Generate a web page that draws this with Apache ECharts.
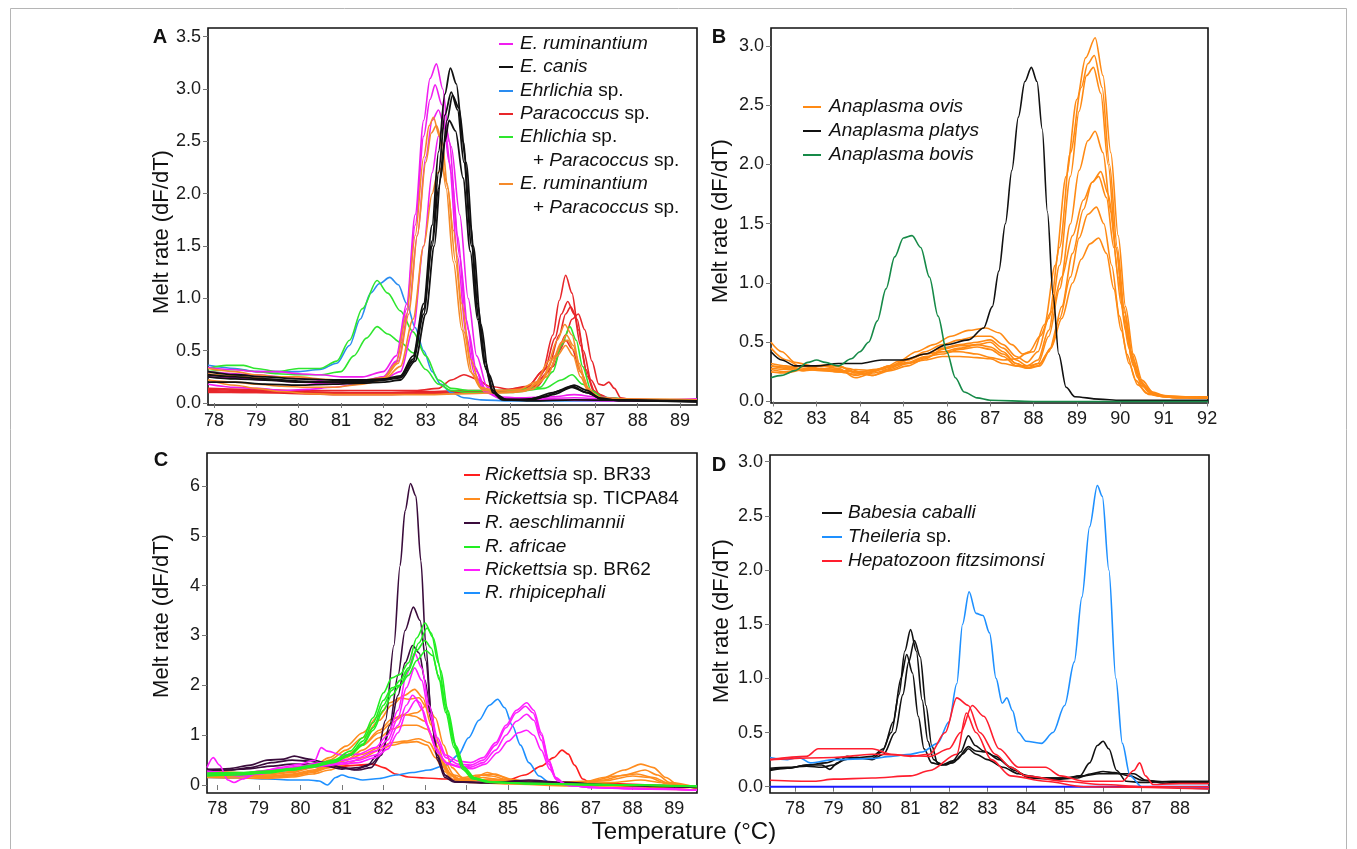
<!DOCTYPE html>
<html>
<head>
<meta charset="utf-8">
<script src="https://cdn.jsdelivr.net/npm/echarts@6/dist/echarts.min.js"></script>
<style>
  html, body { margin: 0; padding: 0; background: #fff; }
  #main { width: 1357px; height: 849px; }
</style>
</head>
<body>
<div id="main"></div>
<script>
// ---------- tick labels ----------
var ticksA = [78, 79, 80, 81, 82, 83, 84, 85, 86, 87, 88, 89];
var ticksB = [82, 83, 84, 85, 86, 87, 88, 89, 90, 91, 92];
var ticksC = [78, 79, 80, 81, 82, 83, 84, 85, 86, 87, 88, 89];
var ticksD = [78, 79, 80, 81, 82, 83, 84, 85, 86, 87, 88];
var yTicksA = [0, 0.5, 1, 1.5, 2, 2.5, 3, 3.5];
var yTicksB = [0, 0.5, 1, 1.5, 2, 2.5, 3];
var yTicksC = [0, 1, 2, 3, 4, 5, 6];
var yTicksD = [0, 0.5, 1, 1.5, 2, 2.5, 3];

// ---------- panel A : [temperature, melt rate] ----------
var aRum1 = [[77.86,0.34],[78.4,0.32],[79,0.3],[79.5,0.3],[80,0.28],[80.5,0.27],[81,0.25],[81.5,0.25],[82,0.3],[82.3,0.45],[82.55,0.95],[82.75,1.8],[82.95,2.7],[83.1,3.1],[83.25,3.24],[83.4,3.0],[83.55,2.5],[83.75,1.6],[83.95,0.8],[84.15,0.35],[84.4,0.12],[84.7,0.06],[85.2,0.05],[86,0.06],[86.5,0.08],[87,0.06],[87.6,0.04],[88.5,0.03],[89.4,0.04]];
var aRum2 = [[77.86,0.3],[78.5,0.28],[79,0.27],[79.6,0.25],[80.2,0.23],[80.8,0.2],[81.4,0.2],[82,0.25],[82.3,0.4],[82.55,0.9],[82.75,1.7],[82.95,2.55],[83.1,2.9],[83.22,3.04],[83.38,2.85],[83.55,2.3],[83.75,1.4],[83.95,0.65],[84.15,0.28],[84.4,0.1],[84.8,0.04],[86,0.03],[87,0.03],[89.4,0.02]];
var aRum3 = [[77.86,0.18],[78.5,0.15],[79,0.14],[79.6,0.12],[80.2,0.13],[80.8,0.15],[81.4,0.18],[82,0.25],[82.35,0.4],[82.6,0.9],[82.8,1.6],[83.0,2.35],[83.15,2.7],[83.3,2.8],[83.45,2.62],[83.6,2.2],[83.8,1.4],[84.0,0.7],[84.2,0.3],[84.45,0.1],[84.8,0.04],[86,0.03],[87.5,0.02],[89.4,0.03]];
var aRum4 = [[77.86,0.25],[78.5,0.24],[79.2,0.22],[80,0.2],[80.8,0.18],[81.5,0.2],[82,0.23],[82.4,0.3],[82.7,0.7],[82.95,1.5],[83.15,2.2],[83.3,2.55],[83.45,2.65],[83.6,2.45],[83.8,1.8],[84.0,1.0],[84.2,0.45],[84.45,0.15],[84.8,0.05],[85.5,0.04],[86.5,0.05],[87.5,0.03],[89.4,0.03]];
var aCan1 = [[77.86,0.3],[78.5,0.27],[79.2,0.25],[80,0.23],[80.8,0.22],[81.5,0.22],[82,0.23],[82.4,0.26],[82.7,0.45],[82.95,0.95],[83.15,1.7],[83.3,2.4],[83.45,2.95],[83.58,3.2],[83.72,3.05],[83.88,2.5],[84.05,1.7],[84.22,0.95],[84.4,0.4],[84.58,0.12],[84.8,0.04],[85.3,0.03],[85.8,0.06],[86.2,0.12],[86.5,0.17],[86.8,0.12],[87.1,0.05],[87.6,0.02],[89.4,0.02]];
var aCan2 = [[77.86,0.25],[78.5,0.23],[79.2,0.22],[80,0.2],[80.8,0.2],[81.5,0.2],[82,0.22],[82.4,0.24],[82.7,0.4],[82.95,0.85],[83.15,1.55],[83.3,2.2],[83.45,2.75],[83.6,2.97],[83.75,2.8],[83.9,2.3],[84.08,1.5],[84.25,0.8],[84.42,0.32],[84.6,0.1],[84.85,0.03],[85.5,0.03],[86,0.08],[86.45,0.15],[86.8,0.1],[87.2,0.03],[89.4,0.01]];
var aCan3 = [[77.86,0.2],[78.5,0.2],[79.2,0.18],[80,0.17],[80.8,0.18],[81.5,0.19],[82,0.2],[82.4,0.22],[82.75,0.4],[83.0,0.85],[83.2,1.5],[83.35,2.15],[83.5,2.7],[83.63,2.94],[83.78,2.82],[83.95,2.3],[84.12,1.5],[84.3,0.75],[84.48,0.28],[84.68,0.08],[84.9,0.03],[85.5,0.02],[86.5,0.03],[89.4,0.01]];
var aCan4 = [[77.86,0.27],[78.5,0.25],[79.2,0.23],[80,0.21],[80.8,0.2],[81.5,0.21],[82,0.22],[82.4,0.25],[82.7,0.42],[82.95,0.9],[83.15,1.5],[83.3,2.05],[83.45,2.5],[83.55,2.7],[83.7,2.6],[83.88,2.15],[84.05,1.45],[84.22,0.8],[84.4,0.35],[84.58,0.1],[84.8,0.03],[85.5,0.04],[86,0.1],[86.45,0.16],[86.8,0.1],[87.2,0.03],[89.4,0.02]];
var aEhr = [[77.86,0.36],[78.5,0.33],[79,0.3],[79.5,0.3],[80,0.3],[80.5,0.32],[80.9,0.38],[81.2,0.55],[81.45,0.8],[81.7,1.05],[81.9,1.14],[82.15,1.2],[82.35,1.13],[82.55,0.95],[82.75,0.72],[82.95,0.5],[83.15,0.3],[83.35,0.18],[83.6,0.1],[83.9,0.05],[84.3,0.03],[85,0.02],[86,0.02],[87,0.02],[89.4,0.02]];
var aMix1 = [[77.86,0.33],[78.3,0.36],[78.7,0.36],[79,0.33],[79.5,0.3],[80,0.33],[80.5,0.33],[80.9,0.4],[81.2,0.6],[81.5,0.9],[81.85,1.17],[82.1,1.05],[82.4,0.88],[82.7,0.68],[83.0,0.45],[83.3,0.22],[83.6,0.14],[84,0.12],[85,0.12],[85.7,0.15],[86,0.3],[86.2,0.55],[86.4,0.73],[86.55,0.6],[86.7,0.35],[86.9,0.12],[87.2,0.05],[88,0.03],[89.4,0.03]];
var aMix2 = [[77.86,0.3],[78.5,0.32],[79,0.3],[79.5,0.28],[80,0.27],[80.5,0.27],[81,0.3],[81.3,0.45],[81.6,0.62],[81.85,0.73],[82.1,0.66],[82.4,0.58],[82.7,0.48],[83,0.32],[83.3,0.18],[83.6,0.12],[84,0.1],[85,0.1],[85.8,0.14],[86.2,0.22],[86.45,0.27],[86.7,0.18],[87,0.06],[88,0.03],[89.4,0.03]];
var aPar1 = [[77.86,0.13],[79,0.12],[80,0.11],[81,0.1],[82,0.1],[83,0.11],[84,0.12],[84.8,0.12],[85.4,0.15],[85.75,0.3],[86.0,0.65],[86.15,0.98],[86.3,1.22],[86.45,1.05],[86.6,0.7],[86.78,0.32],[86.95,0.12],[87.2,0.05],[87.8,0.03],[89.4,0.02]];
var aPar2 = [[77.86,0.12],[79,0.11],[80,0.1],[81,0.1],[82,0.09],[83,0.1],[84,0.11],[84.8,0.12],[85.4,0.16],[85.8,0.32],[86.05,0.62],[86.2,0.85],[86.35,0.97],[86.5,0.85],[86.65,0.55],[86.82,0.25],[87.0,0.1],[87.3,0.04],[88,0.03],[89.4,0.02]];
var aPar3 = [[77.86,0.1],[79,0.1],[80,0.09],[81,0.08],[82,0.08],[83,0.09],[84,0.1],[84.8,0.11],[85.5,0.15],[85.9,0.35],[86.15,0.65],[86.3,0.85],[86.42,0.92],[86.57,0.8],[86.72,0.5],[86.9,0.22],[87.1,0.08],[87.4,0.03],[89.4,0.02]];
var aPar4 = [[77.86,0.11],[79,0.1],[80,0.1],[81,0.09],[82,0.09],[83,0.1],[84,0.11],[85,0.12],[85.6,0.15],[86.0,0.35],[86.3,0.65],[86.45,0.8],[86.6,0.85],[86.75,0.7],[86.92,0.4],[87.08,0.18],[87.2,0.17],[87.32,0.2],[87.45,0.14],[87.6,0.05],[88,0.02],[89.4,0.02]];
var aPar5 = [[77.86,0.14],[79,0.13],[80,0.12],[81,0.12],[82,0.12],[82.8,0.12],[83.3,0.14],[83.6,0.22],[83.9,0.27],[84.2,0.23],[84.5,0.16],[85,0.13],[85.5,0.14],[85.9,0.3],[86.15,0.5],[86.3,0.6],[86.45,0.52],[86.65,0.3],[86.85,0.12],[87.1,0.05],[88,0.03],[89.4,0.02]];
var aRP1 = [[77.86,0.33],[78.5,0.3],[79,0.27],[79.5,0.25],[80,0.25],[80.5,0.23],[81,0.22],[81.5,0.22],[82,0.24],[82.3,0.38],[82.55,0.85],[82.75,1.6],[82.95,2.35],[83.08,2.65],[83.18,2.73],[83.32,2.55],[83.48,2.05],[83.65,1.35],[83.85,0.7],[84.05,0.3],[84.3,0.14],[84.7,0.12],[85.2,0.13],[85.6,0.2],[85.9,0.4],[86.1,0.6],[86.28,0.75],[86.45,0.65],[86.62,0.38],[86.8,0.15],[87.05,0.06],[87.6,0.03],[89.4,0.03]];
var aRP2 = [[77.86,0.28],[78.5,0.26],[79,0.24],[79.5,0.22],[80,0.2],[80.5,0.2],[81,0.2],[81.5,0.21],[82,0.23],[82.35,0.38],[82.6,0.85],[82.8,1.6],[83.0,2.3],[83.13,2.58],[83.25,2.65],[83.38,2.5],[83.52,2.05],[83.7,1.35],[83.9,0.68],[84.1,0.28],[84.35,0.12],[84.8,0.1],[85.3,0.11],[85.7,0.2],[86.0,0.42],[86.2,0.58],[86.32,0.65],[86.48,0.55],[86.65,0.3],[86.85,0.12],[87.1,0.05],[88,0.03],[89.4,0.03]];
var aRP3 = [[77.86,0.22],[78.5,0.2],[79,0.18],[79.6,0.16],[80.2,0.15],[80.8,0.15],[81.5,0.18],[82,0.22],[82.4,0.35],[82.7,0.8],[82.95,1.5],[83.15,2.0],[83.28,2.2],[83.38,2.25],[83.5,2.1],[83.65,1.65],[83.85,0.95],[84.05,0.42],[84.3,0.15],[84.7,0.1],[85.3,0.12],[85.75,0.22],[86.05,0.45],[86.22,0.58],[86.35,0.6],[86.5,0.5],[86.68,0.28],[86.88,0.1],[87.2,0.04],[89.4,0.03]];
var aRP4 = [[77.86,0.22],[78.5,0.17],[79,0.14],[79.6,0.11],[80.2,0.09],[81,0.08],[82,0.08],[83,0.08],[84,0.09],[85,0.1],[85.5,0.13],[85.85,0.25],[86.1,0.45],[86.3,0.55],[86.48,0.45],[86.65,0.25],[86.85,0.1],[87.2,0.04],[89.4,0.03]];

// ---------- panel B ----------
var bBov = [[81.95,0.2],[82.2,0.22],[82.5,0.26],[82.8,0.33],[83,0.35],[83.2,0.33],[83.5,0.3],[83.8,0.36],[84.0,0.42],[84.2,0.5],[84.4,0.68],[84.6,0.95],[84.8,1.22],[85.0,1.38],[85.2,1.4],[85.4,1.3],[85.6,1.05],[85.8,0.72],[86.0,0.42],[86.2,0.2],[86.4,0.08],[86.7,0.03],[87,0.01],[88,0.0],[92.02,0.0]];
var bPla = [[81.95,0.42],[82.2,0.35],[82.5,0.3],[83,0.3],[83.5,0.32],[84,0.32],[84.5,0.35],[85,0.35],[85.5,0.4],[86,0.48],[86.5,0.52],[86.85,0.62],[87.05,0.8],[87.2,1.1],[87.35,1.5],[87.5,1.95],[87.65,2.4],[87.8,2.7],[87.95,2.82],[88.08,2.7],[88.2,2.3],[88.32,1.6],[88.45,0.9],[88.58,0.4],[88.75,0.12],[88.95,0.04],[89.5,0.02],[90,0.01],[92.02,0.01]];
var bOv1 = [[81.95,0.5],[82.2,0.42],[82.5,0.33],[82.9,0.3],[83.3,0.31],[83.7,0.28],[84.1,0.24],[84.5,0.27],[84.9,0.34],[85.3,0.42],[85.7,0.48],[86.1,0.55],[86.5,0.6],[86.9,0.62],[87.2,0.58],[87.5,0.48],[87.75,0.4],[88.0,0.42],[88.25,0.65],[88.5,1.15],[88.75,1.9],[89.0,2.55],[89.2,2.9],[89.42,3.07],[89.6,2.75],[89.78,2.1],[89.95,1.4],[90.12,0.8],[90.3,0.4],[90.5,0.18],[90.75,0.08],[91.0,0.05],[91.5,0.04],[92.02,0.04]];
var bOv2 = [[81.95,0.45],[82.3,0.35],[82.7,0.28],[83.1,0.3],[83.5,0.3],[83.9,0.25],[84.3,0.22],[84.7,0.28],[85.1,0.35],[85.5,0.42],[85.9,0.48],[86.3,0.52],[86.7,0.55],[87.0,0.55],[87.3,0.48],[87.6,0.38],[87.85,0.33],[88.1,0.42],[88.35,0.7],[88.6,1.3],[88.85,2.1],[89.1,2.65],[89.25,2.85],[89.4,2.92],[89.58,2.65],[89.75,2.0],[89.93,1.3],[90.1,0.75],[90.3,0.35],[90.5,0.15],[90.8,0.06],[91.2,0.04],[92.02,0.03]];
var bOv3 = [[81.95,0.32],[82.3,0.3],[82.7,0.27],[83.1,0.28],[83.5,0.27],[83.9,0.22],[84.3,0.25],[84.7,0.3],[85.1,0.36],[85.5,0.4],[85.9,0.45],[86.3,0.48],[86.7,0.5],[87.0,0.52],[87.3,0.45],[87.6,0.35],[87.85,0.3],[88.1,0.35],[88.35,0.6],[88.6,1.15],[88.85,1.9],[89.05,2.45],[89.22,2.75],[89.38,2.82],[89.55,2.6],[89.72,2.0],[89.9,1.3],[90.08,0.72],[90.28,0.33],[90.5,0.13],[90.8,0.05],[91.3,0.03],[92.02,0.03]];
var bOv4 = [[81.95,0.28],[82.3,0.27],[82.7,0.26],[83.1,0.3],[83.5,0.28],[83.9,0.2],[84.3,0.24],[84.7,0.27],[85.1,0.32],[85.5,0.37],[85.9,0.42],[86.3,0.45],[86.7,0.48],[87.0,0.5],[87.3,0.42],[87.6,0.32],[87.85,0.28],[88.1,0.32],[88.35,0.55],[88.6,0.95],[88.85,1.5],[89.05,1.95],[89.25,2.2],[89.42,2.28],[89.6,2.1],[89.78,1.6],[89.95,1.05],[90.12,0.6],[90.3,0.3],[90.55,0.12],[90.85,0.05],[91.3,0.03],[92.02,0.03]];
var bOv5 = [[81.95,0.25],[82.3,0.24],[82.7,0.27],[83.1,0.3],[83.5,0.3],[83.9,0.24],[84.3,0.22],[84.7,0.26],[85.1,0.3],[85.5,0.36],[85.9,0.44],[86.3,0.47],[86.7,0.48],[87.0,0.46],[87.3,0.4],[87.6,0.32],[87.9,0.28],[88.15,0.3],[88.4,0.45],[88.65,0.8],[88.9,1.25],[89.15,1.62],[89.35,1.85],[89.55,1.94],[89.72,1.75],[89.9,1.3],[90.08,0.8],[90.25,0.42],[90.45,0.18],[90.7,0.07],[91.1,0.04],[92.02,0.03]];
var bOv6 = [[81.95,0.3],[82.3,0.28],[82.7,0.3],[83.1,0.27],[83.5,0.25],[83.9,0.27],[84.3,0.26],[84.7,0.3],[85.1,0.35],[85.5,0.4],[85.9,0.42],[86.3,0.42],[86.7,0.4],[87.0,0.37],[87.3,0.35],[87.6,0.36],[87.9,0.42],[88.15,0.55],[88.4,0.75],[88.65,1.05],[88.9,1.4],[89.15,1.7],[89.35,1.85],[89.5,1.9],[89.68,1.72],[89.85,1.3],[90.02,0.82],[90.2,0.45],[90.4,0.2],[90.65,0.08],[91.0,0.04],[92.02,0.03]];
var bOv7 = [[81.95,0.27],[82.3,0.25],[82.7,0.27],[83.1,0.26],[83.5,0.25],[83.9,0.23],[84.3,0.27],[84.7,0.29],[85.1,0.33],[85.5,0.38],[85.9,0.4],[86.3,0.44],[86.7,0.46],[87.0,0.44],[87.3,0.38],[87.6,0.3],[87.85,0.28],[88.1,0.3],[88.35,0.42],[88.6,0.7],[88.85,1.05],[89.05,1.38],[89.25,1.58],[89.45,1.64],[89.62,1.5],[89.8,1.15],[89.98,0.72],[90.15,0.4],[90.35,0.18],[90.6,0.07],[91.0,0.04],[92.02,0.03]];
var bOv8 = [[81.95,0.3],[82.3,0.29],[82.7,0.26],[83.1,0.27],[83.5,0.26],[83.9,0.25],[84.3,0.26],[84.7,0.3],[85.1,0.32],[85.5,0.35],[85.9,0.38],[86.3,0.38],[86.7,0.37],[87.0,0.36],[87.3,0.32],[87.6,0.3],[87.85,0.3],[88.15,0.32],[88.4,0.45],[88.65,0.7],[88.9,1.0],[89.1,1.2],[89.3,1.33],[89.5,1.38],[89.68,1.25],[89.85,0.95],[90.02,0.6],[90.2,0.32],[90.4,0.14],[90.65,0.06],[91.0,0.04],[92.02,0.03]];

// ---------- panel C ----------
var cBR33 = [[77.75,0.2],[78.5,0.22],[79,0.27],[79.5,0.32],[80,0.35],[80.5,0.37],[81,0.38],[81.4,0.4],[81.75,0.42],[82.0,0.35],[82.3,0.22],[82.6,0.16],[83,0.14],[83.5,0.12],[84,0.1],[84.5,0.08],[85,0.1],[85.4,0.2],[85.8,0.38],[86.1,0.55],[86.3,0.7],[86.45,0.62],[86.6,0.4],[86.8,0.12],[87.0,0.04],[87.5,0.03],[88.5,0.0],[89.55,-0.03]];
var cTic1 = [[77.75,0.25],[78.5,0.22],[79.2,0.2],[79.8,0.25],[80.3,0.35],[80.7,0.5],[81.1,0.7],[81.5,0.95],[81.9,1.3],[82.2,1.6],[82.5,1.8],[82.75,1.92],[82.95,1.75],[83.15,1.2],[83.35,0.6],[83.55,0.25],[83.8,0.12],[84.2,0.15],[84.5,0.25],[84.8,0.18],[85.2,0.08],[86,0.05],[86.8,0.05],[87.3,0.15],[87.8,0.3],[88.2,0.42],[88.5,0.35],[88.8,0.15],[89.1,0.0],[89.55,-0.08]];
var cTic2 = [[77.75,0.3],[78.5,0.25],[79.2,0.22],[79.8,0.27],[80.3,0.38],[80.7,0.55],[81.1,0.78],[81.5,1.05],[81.9,1.4],[82.15,1.65],[82.4,1.75],[82.6,1.72],[82.85,1.75],[83.05,1.55],[83.25,1.0],[83.45,0.5],[83.7,0.2],[84.0,0.12],[84.4,0.2],[84.7,0.22],[85.0,0.12],[85.5,0.06],[86.5,0.04],[87.3,0.1],[87.8,0.2],[88.3,0.3],[88.6,0.2],[88.9,0.05],[89.55,-0.05]];
var cTic3 = [[77.75,0.2],[78.5,0.18],[79.2,0.17],[79.8,0.22],[80.3,0.3],[80.7,0.42],[81.1,0.6],[81.5,0.8],[81.9,1.05],[82.2,1.25],[82.5,1.4],[82.8,1.45],[83.05,1.6],[83.25,1.35],[83.45,0.8],[83.65,0.35],[83.9,0.15],[84.3,0.2],[84.6,0.18],[85.0,0.1],[86,0.05],[87,0.08],[87.6,0.18],[88.1,0.22],[88.5,0.15],[88.9,0.02],[89.55,-0.05]];
var cTic4 = [[77.75,0.22],[78.5,0.2],[79.2,0.18],[79.8,0.2],[80.3,0.27],[80.7,0.38],[81.1,0.55],[81.5,0.8],[81.9,1.1],[82.2,1.32],[82.5,1.42],[82.75,1.38],[83.0,1.28],[83.2,0.95],[83.4,0.5],[83.6,0.22],[83.9,0.1],[84.4,0.15],[84.7,0.12],[85.2,0.05],[86.5,0.03],[87.3,0.08],[88.0,0.18],[88.4,0.15],[88.8,0.03],[89.55,-0.06]];
var cTic5 = [[77.75,0.18],[78.5,0.17],[79.2,0.15],[79.8,0.18],[80.3,0.25],[80.7,0.35],[81.1,0.5],[81.5,0.7],[81.9,0.95],[82.2,1.12],[82.5,1.2],[82.8,1.2],[83.05,1.12],[83.25,0.8],[83.45,0.42],[83.65,0.18],[83.9,0.08],[84.5,0.1],[85.2,0.05],[86.5,0.02],[87.5,0.05],[88.2,0.1],[88.7,0.05],[89.55,-0.07]];
var cTic6 = [[77.75,0.2],[78.5,0.18],[79.2,0.17],[79.8,0.2],[80.3,0.28],[80.7,0.38],[81.1,0.5],[81.5,0.62],[81.9,0.75],[82.2,0.85],[82.5,0.88],[82.85,0.93],[83.1,0.85],[83.3,0.6],[83.5,0.3],[83.75,0.12],[84.1,0.08],[84.6,0.12],[85.2,0.05],[86.5,0.0],[87.5,-0.02],[88.5,-0.05],[89.55,-0.1]];
var cTic7 = [[77.75,0.15],[78.5,0.14],[79.2,0.13],[79.8,0.16],[80.3,0.22],[80.7,0.3],[81.1,0.42],[81.5,0.55],[81.9,0.7],[82.2,0.8],[82.5,0.85],[82.8,0.87],[83.05,0.8],[83.25,0.55],[83.45,0.28],[83.7,0.1],[84.1,0.05],[85,0.02],[86.5,-0.02],[87.5,-0.05],[88.5,-0.08],[89.55,-0.1]];
var cAes1 = [[77.75,0.3],[78.3,0.33],[78.8,0.4],[79.2,0.5],[79.6,0.52],[79.85,0.58],[80.2,0.52],[80.6,0.45],[81.0,0.35],[81.3,0.3],[81.6,0.38],[81.85,0.6],[82.05,1.3],[82.25,2.8],[82.4,4.4],[82.52,5.5],[82.65,6.05],[82.78,5.8],[82.9,4.5],[83.02,2.8],[83.15,1.4],[83.3,0.5],[83.48,0.15],[83.7,0.06],[84.2,0.05],[85,0.06],[85.8,0.05],[86.5,0.02],[87.5,0.0],[88.5,-0.03],[89.55,-0.05]];
var cAes2 = [[77.75,0.28],[78.3,0.3],[78.8,0.35],[79.3,0.45],[79.8,0.5],[80.2,0.48],[80.6,0.42],[81.0,0.35],[81.4,0.3],[81.7,0.35],[81.95,0.6],[82.15,1.2],[82.35,2.2],[82.52,3.1],[82.72,3.57],[82.88,3.3],[83.02,2.5],[83.15,1.5],[83.3,0.6],[83.48,0.2],[83.7,0.07],[84.5,0.05],[85.5,0.08],[86.2,0.05],[87.5,0.0],[89.55,-0.05]];
var cAes3 = [[77.75,0.32],[78.3,0.3],[78.8,0.33],[79.3,0.38],[79.8,0.42],[80.2,0.42],[80.6,0.38],[81.0,0.32],[81.4,0.35],[81.7,0.42],[81.95,0.62],[82.15,1.1],[82.35,1.8],[82.52,2.45],[82.7,2.8],[82.86,2.65],[83.0,2.1],[83.15,1.3],[83.3,0.55],[83.5,0.18],[83.75,0.06],[84.5,0.04],[85.5,0.1],[86.2,0.06],[87.5,0.0],[89.55,-0.04]];
var cAfr1 = [[77.75,0.22],[78.5,0.24],[79.2,0.28],[79.8,0.33],[80.3,0.4],[80.8,0.5],[81.2,0.68],[81.5,0.95],[81.75,1.35],[82.0,1.85],[82.2,2.15],[82.4,2.22],[82.6,2.45],[82.8,2.95],[83.0,3.25],[83.15,3.05],[83.32,2.45],[83.5,1.6],[83.7,0.85],[83.9,0.38],[84.15,0.15],[84.5,0.07],[85.2,0.04],[86.5,0.02],[88,0.0],[89.55,-0.02]];
var cAfr2 = [[77.75,0.18],[78.5,0.2],[79.2,0.24],[79.8,0.3],[80.3,0.38],[80.8,0.48],[81.2,0.62],[81.5,0.88],[81.75,1.25],[82.0,1.7],[82.2,1.95],[82.4,2.0],[82.6,2.3],[82.85,2.85],[83.05,3.15],[83.2,2.95],[83.38,2.3],[83.55,1.5],[83.75,0.78],[83.95,0.35],[84.2,0.14],[84.6,0.06],[85.5,0.03],[87,0.01],[89.55,-0.03]];
var cAfr3 = [[77.75,0.2],[78.5,0.22],[79.2,0.25],[79.8,0.3],[80.3,0.36],[80.8,0.45],[81.2,0.6],[81.5,0.82],[81.75,1.15],[82.0,1.6],[82.2,1.9],[82.4,2.1],[82.6,2.35],[82.8,2.7],[83.0,2.9],[83.15,2.75],[83.32,2.2],[83.5,1.45],[83.7,0.75],[83.9,0.32],[84.15,0.12],[84.5,0.06],[85.5,0.03],[87,0.01],[89.55,-0.03]];
var cAfr4 = [[77.75,0.24],[78.5,0.25],[79.2,0.27],[79.8,0.32],[80.3,0.38],[80.8,0.47],[81.2,0.6],[81.5,0.8],[81.75,1.1],[82.0,1.5],[82.2,1.8],[82.4,2.0],[82.6,2.2],[82.8,2.5],[83.02,2.7],[83.18,2.6],[83.35,2.1],[83.55,1.4],[83.75,0.72],[83.95,0.3],[84.2,0.12],[84.6,0.05],[85.5,0.02],[87,0.0],[89.55,-0.03]];
var cB62a = [[77.75,0.35],[77.9,0.55],[78.05,0.4],[78.25,0.1],[78.4,0.05],[78.6,0.12],[79.0,0.25],[79.5,0.35],[80.0,0.42],[80.35,0.5],[80.5,0.75],[80.65,0.68],[81.0,0.6],[81.4,0.62],[81.8,0.75],[82.1,1.0],[82.35,1.5],[82.55,2.2],[82.75,2.65],[82.92,2.35],[83.1,1.6],[83.3,0.95],[83.5,0.6],[83.8,0.48],[84.1,0.45],[84.4,0.55],[84.7,0.85],[84.95,1.2],[85.2,1.5],[85.45,1.65],[85.62,1.5],[85.8,1.05],[85.98,0.5],[86.15,0.15],[86.4,0.0],[87,-0.05],[88,-0.07],[89.55,-0.1]];
var cB62b = [[77.75,0.28],[78.2,0.25],[78.6,0.22],[79.0,0.28],[79.5,0.33],[80.0,0.38],[80.5,0.45],[81.0,0.5],[81.4,0.55],[81.8,0.68],[82.1,0.9],[82.35,1.35],[82.55,1.95],[82.75,2.35],[82.92,2.1],[83.1,1.45],[83.3,0.85],[83.5,0.55],[83.8,0.42],[84.1,0.4],[84.4,0.5],[84.7,0.8],[84.95,1.15],[85.2,1.45],[85.42,1.58],[85.6,1.45],[85.8,1.0],[85.98,0.48],[86.15,0.14],[86.4,0.0],[87,-0.05],[88,-0.07],[89.55,-0.1]];
var cB62c = [[77.75,0.25],[78.2,0.22],[78.6,0.2],[79.0,0.24],[79.5,0.3],[80.0,0.35],[80.5,0.4],[81.0,0.45],[81.4,0.5],[81.8,0.6],[82.1,0.8],[82.35,1.2],[82.55,1.6],[82.7,1.8],[82.88,1.65],[83.05,1.2],[83.25,0.75],[83.5,0.45],[83.8,0.38],[84.1,0.36],[84.4,0.45],[84.7,0.7],[84.95,1.0],[85.2,1.28],[85.45,1.42],[85.62,1.3],[85.8,0.9],[85.98,0.42],[86.15,0.12],[86.4,0.0],[87,-0.05],[88,-0.08],[89.55,-0.1]];
var cB62d = [[77.75,0.22],[78.2,0.2],[78.6,0.18],[79.0,0.22],[79.5,0.28],[80.0,0.33],[80.5,0.38],[81.0,0.42],[81.4,0.45],[81.8,0.55],[82.1,0.72],[82.35,1.05],[82.55,1.45],[82.78,1.7],[82.95,1.5],[83.12,1.05],[83.3,0.65],[83.55,0.42],[83.85,0.35],[84.15,0.33],[84.45,0.42],[84.75,0.65],[85.0,0.88],[85.25,1.05],[85.45,1.1],[85.62,1.0],[85.8,0.7],[86.0,0.32],[86.2,0.08],[86.5,-0.02],[87.5,-0.06],[89.55,-0.1]];
var cRhi = [[77.75,0.15],[78.5,0.14],[79.2,0.12],[79.8,0.1],[80.2,0.1],[80.45,0.08],[80.65,0.0],[80.85,0.15],[81.0,0.2],[81.2,0.15],[81.5,0.1],[81.9,0.13],[82.3,0.2],[82.7,0.25],[83.1,0.3],[83.5,0.4],[83.8,0.6],[84.05,0.95],[84.3,1.3],[84.55,1.6],[84.75,1.72],[84.92,1.55],[85.1,1.2],[85.3,0.8],[85.5,0.45],[85.75,0.18],[86.0,0.05],[86.5,0.02],[87.5,0.0],[89.55,-0.03]];

// ---------- panel D ----------
var dBab1 = [[77.35,0.15],[77.8,0.17],[78.3,0.2],[78.7,0.2],[78.9,0.16],[79.1,0.22],[79.35,0.28],[79.6,0.26],[80.0,0.26],[80.25,0.32],[80.5,0.5],[80.7,0.85],[80.85,1.25],[81.0,1.45],[81.15,1.25],[81.3,0.8],[81.45,0.42],[81.6,0.25],[81.8,0.2],[82.1,0.24],[82.3,0.32],[82.5,0.47],[82.68,0.38],[82.9,0.33],[83.2,0.28],[83.6,0.18],[84.0,0.1],[84.5,0.08],[85.0,0.08],[85.4,0.1],[85.65,0.22],[85.85,0.38],[86.0,0.42],[86.15,0.35],[86.35,0.15],[86.6,0.05],[87,0.04],[87.8,0.05],[88.75,0.05]];
var dBab2 = [[77.35,0.17],[77.8,0.18],[78.3,0.19],[78.7,0.18],[79.0,0.2],[79.3,0.25],[79.6,0.27],[80.0,0.25],[80.3,0.3],[80.6,0.5],[80.8,0.85],[80.95,1.15],[81.1,1.35],[81.25,1.2],[81.4,0.75],[81.55,0.38],[81.7,0.22],[81.9,0.2],[82.2,0.25],[82.5,0.37],[82.7,0.33],[82.95,0.32],[83.3,0.25],[83.7,0.15],[84.1,0.08],[84.8,0.07],[85.3,0.08],[85.7,0.12],[86.0,0.14],[86.3,0.13],[86.7,0.1],[87,0.06],[87.8,0.04],[88.75,0.04]];
var dBab3 = [[77.35,0.16],[77.8,0.17],[78.3,0.2],[78.8,0.22],[79.2,0.27],[79.6,0.27],[80.0,0.28],[80.3,0.35],[80.55,0.6],[80.75,1.0],[80.9,1.22],[81.05,1.05],[81.2,0.65],[81.35,0.35],[81.55,0.22],[81.8,0.2],[82.1,0.22],[82.35,0.3],[82.5,0.35],[82.7,0.3],[83.0,0.25],[83.4,0.18],[83.8,0.12],[84.3,0.08],[85.0,0.08],[85.5,0.1],[85.9,0.12],[86.4,0.12],[86.8,0.12],[87.1,0.06],[87.6,0.03],[88.75,0.03]];
var dThe = [[77.35,0.27],[77.8,0.25],[78.1,0.27],[78.4,0.22],[79,0.25],[80,0.26],[80.5,0.28],[81.0,0.3],[81.3,0.32],[81.7,0.4],[82.0,0.6],[82.2,0.95],[82.35,1.5],[82.52,1.8],[82.7,1.6],[82.88,1.58],[83.05,1.42],[83.22,1.0],[83.38,0.77],[83.5,0.82],[83.65,0.7],[83.8,0.5],[84.0,0.42],[84.4,0.4],[84.7,0.5],[85.0,0.75],[85.25,1.15],[85.45,1.75],[85.65,2.4],[85.85,2.78],[85.98,2.68],[86.15,2.0],[86.33,1.0],[86.5,0.4],[86.7,0.1],[87,0.0],[88.75,-0.02]];
var dHep1 = [[77.35,0.25],[78.3,0.28],[78.6,0.35],[79.5,0.35],[80,0.35],[80.5,0.3],[81,0.28],[81.5,0.3],[81.9,0.5],[82.2,0.82],[82.5,0.75],[82.8,0.5],[83.2,0.3],[83.6,0.18],[84,0.1],[85,0.05],[86,0.02],[87,0.0],[88.75,0.0]];
var dHep2 = [[77.35,0.25],[79,0.27],[80,0.3],[81.5,0.28],[82,0.35],[82.3,0.5],[82.6,0.75],[82.9,0.65],[83.3,0.35],[83.8,0.18],[84.5,0.18],[84.9,0.1],[85.5,0.05],[86.5,0.05],[86.8,0.15],[86.95,0.22],[87.1,0.1],[87.3,0.02],[88,0.03],[88.75,0.03]];
var dHep3 = [[77.35,0.06],[78.5,0.05],[79,0.07],[80,0.08],[81,0.1],[81.5,0.15],[82.2,0.3],[82.45,0.68],[82.7,0.5],[83.1,0.25],[83.6,0.1],[84.5,0.05],[85.5,0.0],[88.75,-0.02]];
var dBase = [[77.35,0.0],[88.75,0.0]];

// ---------- styling ----------
var FONT = '"Liberation Sans", Arial, Helvetica, sans-serif';
var MAG = '#f01ef0', BLK = '#111111', BLU = '#2a8cf0', RED = '#e8262a', GRN = '#2ee62e', ORA = '#f58a2a';
var ORB = '#ff8a14', GRB = '#168a48';
var PUR = '#3a0c3c';

var grids = [
  {left: 208, top: 28, width: 489, height: 377},
  {left: 771, top: 28, width: 437, height: 375},
  {left: 207, top: 453, width: 490, height: 340},
  {left: 770, top: 455, width: 439, height: 338}
];
grids.forEach(function (g) {
  g.show = true; g.borderColor = '#111'; g.borderWidth = 1.6; g.backgroundColor = 'transparent';
});

function xAx(i, min, max, ticks) {
  return {
    type: 'value', gridIndex: i, min: min, max: max,
    axisLine: {show: false}, splitLine: {show: false},
    axisTick: {show: true, length: 5, lineStyle: {color: '#777', width: 1}, customValues: ticks},
    axisLabel: {customValues: ticks, fontSize: 18, color: '#1a1a1a', fontFamily: FONT, margin: 7}
  };
}
function yAx(i, min, max, ticks, dec) {
  return {
    type: 'value', gridIndex: i, min: min, max: max,
    axisLine: {show: false}, splitLine: {show: false},
    axisTick: {show: true, length: 5, lineStyle: {color: '#777', width: 1}, customValues: ticks},
    axisLabel: {customValues: ticks, fontSize: 18, color: '#1a1a1a', fontFamily: FONT, margin: 7,
      formatter: function (v) { return v.toFixed(dec); }}
  };
}

var series = [];
function add(i, data, color, w) {
  series.push({
    type: 'line', xAxisIndex: i, yAxisIndex: i, data: data,
    showSymbol: false, smooth: 0.3, smoothMonotone: 'x', clip: true, silent: true,
    lineStyle: {color: color, width: w || 1.6}, itemStyle: {color: color}
  });
}

// panel A
[aPar1, aPar2, aPar3, aPar4, aPar5].forEach(function (d) { add(0, d, RED); });
add(0, aEhr, BLU);
[aMix1, aMix2].forEach(function (d) { add(0, d, GRN); });
[aRum1, aRum2, aRum3, aRum4].forEach(function (d) { add(0, d, MAG); });
[aRP4, aRP3, aRP2, aRP1].forEach(function (d) { add(0, d, ORA); });
[aCan1, aCan2, aCan3, aCan4].forEach(function (d) { add(0, d, BLK, 1.8); });
// panel B
[bOv1, bOv2, bOv3, bOv4, bOv5, bOv6, bOv7, bOv8].forEach(function (d) { add(1, d, ORB); });
add(1, bPla, BLK);
add(1, bBov, GRB);
// panel C
add(2, cBR33, '#ff1e1e');
add(2, cRhi, '#1e90ff');
[cTic1, cTic2, cTic3, cTic4, cTic5, cTic6, cTic7].forEach(function (d) { add(2, d, '#ff8c1e'); });
[cAes1, cAes2, cAes3].forEach(function (d) { add(2, d, PUR); });
[cB62a, cB62b, cB62c, cB62d].forEach(function (d) { add(2, d, '#ff1eff'); });
[cAfr1, cAfr2, cAfr3, cAfr4].forEach(function (d) { add(2, d, '#22ee22'); });
// panel D
add(3, dBase, '#1a1aff', 2);
[dBab1, dBab2, dBab3].forEach(function (d) { add(3, d, BLK); });
add(3, dThe, '#1e90ff');
[dHep1, dHep2, dHep3].forEach(function (d) { add(3, d, '#ff1e2e'); });

// ---------- legends / labels ----------
var rich = {
  i: {fontStyle: 'italic', fontSize: 19, fontFamily: FONT, fill: '#111'},
  n: {fontSize: 19, fontFamily: FONT, fill: '#111'}
};
var graphics = [];
function row(x1, x2, tx, y, color, txt) {
  if (color) {
    graphics.push({type: 'line', silent: true, shape: {x1: x1, y1: y, x2: x2, y2: y},
      style: {stroke: color, lineWidth: 2}});
  }
  graphics.push({type: 'text', silent: true, x: tx, y: y,
    style: {text: txt, rich: rich, fill: '#111', fontSize: 19, fontFamily: FONT,
      verticalAlign: 'middle', align: 'left'}});
}
function label(x, y, txt, size, bold, rot) {
  graphics.push({type: 'text', silent: true, x: x, y: y, rotation: rot || 0,
    style: {text: txt, fill: '#111', fontSize: size, fontWeight: bold ? 'bold' : 'normal',
      fontFamily: FONT, align: 'center', verticalAlign: 'middle'}});
}

row(499, 513, 520, 44, MAG, '{i|E. ruminantium}');
row(499, 513, 520, 67, BLK, '{i|E. canis}');
row(499, 513, 520, 91, BLU, '{i|Ehrlichia}{n| sp.}');
row(499, 513, 520, 114, RED, '{i|Paracoccus}{n| sp.}');
row(499, 513, 520, 137, GRN, '{i|Ehlichia}{n| sp.}');
row(0, 0, 533, 161, null, '{n|+ }{i|Paracoccus}{n| sp.}');
row(499, 513, 520, 184, ORA, '{i|E. ruminantium}');
row(0, 0, 533, 208, null, '{n|+ }{i|Paracoccus}{n| sp.}');

row(803, 821, 829, 107, ORB, '{i|Anaplasma ovis}');
row(803, 821, 829, 131, BLK, '{i|Anaplasma platys}');
row(803, 821, 829, 155, GRB, '{i|Anaplasma bovis}');

row(464, 480, 485, 475, '#ff1e1e', '{i|Rickettsia}{n| sp. BR33}');
row(464, 480, 485, 499, '#ff8c1e', '{i|Rickettsia}{n| sp. TICPA84}');
row(464, 480, 485, 523, PUR, '{i|R. aeschlimannii}');
row(464, 480, 485, 547, '#22ee22', '{i|R. africae}');
row(464, 480, 485, 570, '#ff1eff', '{i|Rickettsia}{n| sp. BR62}');
row(464, 480, 485, 593, '#1e90ff', '{i|R. rhipicephali}');

row(822, 842, 848, 513, BLK, '{i|Babesia caballi}');
row(822, 842, 848, 537, '#1e90ff', '{i|Theileria}{n| sp.}');
row(822, 842, 848, 561, '#ff1e2e', '{i|Hepatozoon fitzsimonsi}');

label(160, 37, 'A', 20, true);
label(719, 37, 'B', 20, true);
label(161, 460, 'C', 20, true);
label(719, 465, 'D', 20, true);

var yTitle = 'Melt rate (dF/dT)';
label(162, 232, yTitle, 22, false, Math.PI / 2);
label(721, 221, yTitle, 22, false, Math.PI / 2);
label(162, 616, yTitle, 22, false, Math.PI / 2);
label(722, 621, yTitle, 22, false, Math.PI / 2);

label(684, 832, 'Temperature (°C)', 24, false);

graphics.push({type: 'rect', silent: true, shape: {x: 10.5, y: 8.5, width: 1336, height: 860},
  style: {fill: 'none', stroke: '#b5b5b5', lineWidth: 1}, z: -10});

var chart = echarts.init(document.getElementById('main'), null, {renderer: 'canvas'});
chart.setOption({
  animation: false,
  backgroundColor: '#fff',
  grid: grids,
  xAxis: [xAx(0, 77.86, 89.4, ticksA), xAx(1, 81.95, 92.02, ticksB), xAx(2, 77.75, 89.55, ticksC), xAx(3, 77.35, 88.75, ticksD)],
  yAxis: [yAx(0, -0.019, 3.583, yTicksA, 1), yAx(1, -0.013, 3.152, yTicksB, 1), yAx(2, -0.16, 6.662, yTicksC, 0), yAx(3, -0.058, 3.062, yTicksD, 1)],
  series: series,
  graphic: graphics
});
</script>
</body>
</html>
